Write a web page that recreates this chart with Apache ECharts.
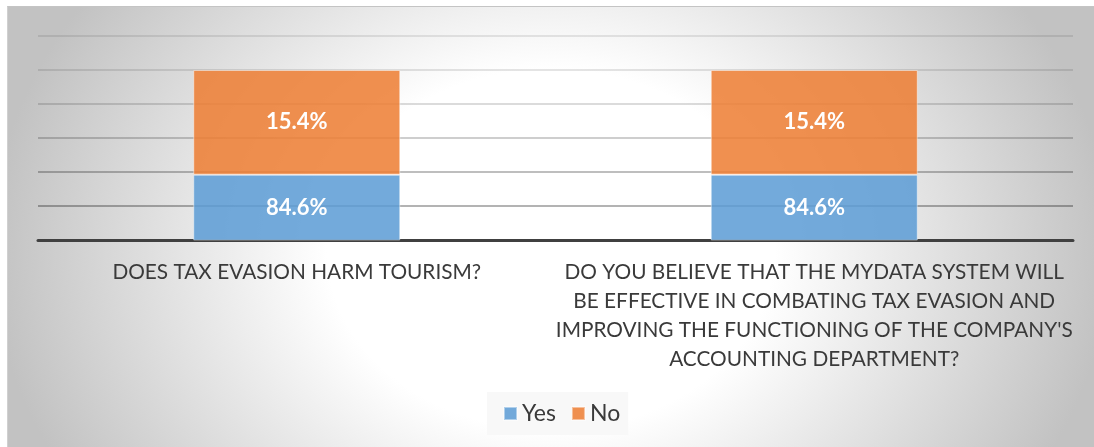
<!DOCTYPE html>
<html>
<head>
<meta charset="utf-8">
<script src="https://cdn.jsdelivr.net/npm/echarts@6/dist/echarts.min.js"></script>
<style>
  html, body { margin: 0; padding: 0; background: #ffffff; }
  #panel {
    position: absolute; left: 7px; top: 6px; width: 1086px; height: 441px;
    border-top: 1px solid #c4c4c4; border-left: 1px solid #d0d0d0;
    background: radial-gradient(ellipse 560px 450px at 50% 55%, #ffffff 0%, #ffffff 40%, #c2c2c2 100%);
  }
  #chart { position: absolute; left: 0; top: 0; width: 1094px; height: 447px; }
</style>
</head>
<body>
<div id="panel"></div>
<div id="chart"></div>
<script>
// Survey questions shown along the category axis
const categories = [
  'DOES TAX EVASION HARM TOURISM?',
  "DO YOU BELIEVE THAT THE MYDATA SYSTEM WILL\nBE EFFECTIVE IN COMBATING TAX EVASION AND\nIMPROVING THE FUNCTIONING OF THE COMPANY'S\nACCOUNTING DEPARTMENT?"
];
// Share of answers per question (percent)
const yesValues = [84.6, 84.6];
const noValues = [15.4, 15.4];

const FONT = 'Lato, "Open Sans", "Noto Sans", sans-serif';

const chart = echarts.init(document.getElementById('chart'), null, { renderer: 'canvas' });

const labelStyle = {
  show: true,
  position: 'inside',
  color: '#ffffff',
  fontFamily: FONT,
  fontWeight: 'bold',
  fontSize: 22,
  formatter: p => p.value.toFixed(1) + '%'
};

chart.setOption({
  animation: false,
  backgroundColor: 'transparent',
  grid: { left: 38, right: 21, top: 36, bottom: 207, containLabel: false },
  legend: {
    data: ['Yes', 'No'],
    bottom: 12,
    left: 487,
    icon: 'rect',
    itemWidth: 13,
    itemHeight: 13,
    itemGap: 15,
    padding: [10, 8, 10, 16],
    backgroundColor: '#f8f8f8',
    textStyle: { color: '#3a3a3a', fontFamily: FONT, fontSize: 23 }
  },
  xAxis: {
    type: 'category',
    data: categories,
    axisLine: { show: true, lineStyle: { color: '#404040', width: 3 } },
    axisTick: { show: false },
    axisLabel: {
      interval: 0,
      color: '#3a3a3a',
      fontFamily: FONT,
      fontSize: 20.8,
      lineHeight: 29,
      margin: 18,
      align: 'center'
    }
  },
  yAxis: {
    type: 'value',
    min: 75,
    max: 105,
    interval: 5,
    axisLine: { show: false },
    axisTick: { show: false },
    axisLabel: { show: false },
    splitLine: {
      show: true,
      lineStyle: {
        width: 1.5,
        color: ['rgba(0,0,0,0)', 'rgba(0,0,0,0.40)', 'rgba(0,0,0,0.34)', 'rgba(0,0,0,0.26)',
                'rgba(0,0,0,0.19)', 'rgba(0,0,0,0.14)', 'rgba(0,0,0,0.12)']
      }
    }
  },
  series: [
    {
      name: 'Yes',
      type: 'bar',
      stack: 'total',
      data: yesValues,
      barWidth: '40%',
      itemStyle: { color: 'rgba(91,155,213,0.85)', borderColor: 'rgba(255,255,255,0.45)', borderWidth: 1 },
      label: labelStyle
    },
    {
      name: 'No',
      type: 'bar',
      stack: 'total',
      data: noValues,
      barWidth: '40%',
      itemStyle: { color: 'rgba(237,125,49,0.85)', borderColor: 'rgba(255,255,255,0.45)', borderWidth: 1 },
      label: labelStyle
    }
  ]
});
</script>
</body>
</html>
